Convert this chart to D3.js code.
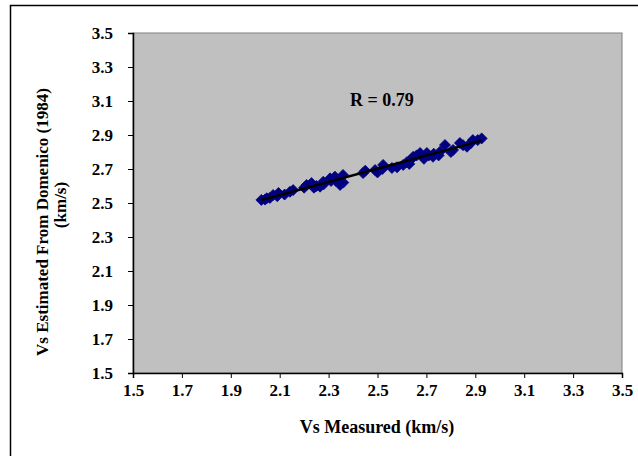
<!DOCTYPE html>
<html>
<head>
<meta charset="utf-8">
<script src="https://cdn.jsdelivr.net/npm/d3@7"></script>
<style>
  html, body { margin: 0; padding: 0; overflow: hidden; background: #fff; }
  svg { display: block; }
  text { font-family: "Liberation Serif", "Times New Roman", serif; font-weight: bold; fill: #000; }
</style>
</head>
<body>
<div id="chart"></div>
<script>
// measured Vs (km/s)
const measured = [2.025, 2.04, 2.047, 2.06, 2.073, 2.09, 2.095, 2.12, 2.142, 2.155, 2.20, 2.21, 2.23, 2.24,
  2.25, 2.265, 2.278, 2.28, 2.306, 2.31, 2.326, 2.33, 2.347, 2.359, 2.36, 2.441, 2.45, 2.49, 2.50, 2.52,
  2.523, 2.559, 2.58, 2.605, 2.62, 2.63, 2.64, 2.646, 2.66, 2.674, 2.68, 2.69, 2.702, 2.71, 2.727, 2.73,
  2.75, 2.756, 2.776, 2.80, 2.809, 2.837, 2.85, 2.866, 2.88, 2.89, 2.91, 2.926]
// Vs estimated from Domenico (1984)
const estimated = [2.518, 2.52, 2.528, 2.53, 2.547, 2.54, 2.559, 2.55, 2.566, 2.576, 2.59, 2.606, 2.617, 2.59,
  2.60, 2.596, 2.625, 2.61, 2.645, 2.63, 2.655, 2.63, 2.606, 2.665, 2.62, 2.676, 2.69, 2.694, 2.68, 2.70,
  2.724, 2.706, 2.71, 2.724, 2.74, 2.73, 2.76, 2.772, 2.78, 2.794, 2.78, 2.76, 2.794, 2.78, 2.772, 2.79,
  2.78, 2.802, 2.841, 2.80, 2.812, 2.853, 2.84, 2.831, 2.85, 2.87, 2.87, 2.88]
const tickValues = [1.5, 1.7, 1.9, 2.1, 2.3, 2.5, 2.7, 2.9, 3.1, 3.3, 3.5]
const rLabel = "R = 0.79"

const width = 638
const height = 456
const plot = { left: 133, top: 33, right: 622, bottom: 373 }

const svg = d3.select("#chart").append("svg")
  .attr("width", width)
  .attr("height", height)

// outer chart frame: only the left and top edges show in the picture
svg.append("path")
  .attr("d", `M10.5,${height}V5.5H${width}`)
  .attr("fill", "none")
  .attr("stroke", "#000")
  .attr("stroke-width", 1.5)

const x = d3.scaleLinear().domain([1.5, 3.5]).range([plot.left, plot.right])
const y = d3.scaleLinear().domain([1.5, 3.5]).range([plot.bottom, plot.top])

svg.append("rect")
  .attr("x", plot.left).attr("y", plot.top)
  .attr("width", plot.right - plot.left)
  .attr("height", plot.bottom - plot.top)
  .attr("fill", "#c0c0c0")
  .attr("stroke", "#808080")
  .attr("stroke-width", 1)

const fmt = d3.format(".1f")

const xAxis = svg.append("g")
  .attr("transform", `translate(0,${plot.bottom})`)
  .call(d3.axisBottom(x).tickValues(tickValues).tickFormat(fmt).tickSize(5).tickPadding(6))
const yAxis = svg.append("g")
  .attr("transform", `translate(${plot.left},0)`)
  .call(d3.axisLeft(y).tickValues(tickValues).tickFormat(fmt).tickSize(5).tickPadding(15))

for (const ax of [xAxis, yAxis]) {
  ax.attr("font-family", null).attr("font-size", null)
  ax.select(".domain").attr("stroke-width", 1.5)
  ax.selectAll("text").style("font-size", "17px")
}

// least-squares trend line through the points
const points = measured.map((m, i) => ({ m, e: estimated[i] }))
const mx = d3.mean(measured)
const my = d3.mean(estimated)
const slope = d3.sum(points, d => (d.m - mx) * (d.e - my)) / d3.sum(points, d => (d.m - mx) ** 2)
const intercept = my - slope * mx
const xExt = d3.extent(measured)

// markers
const diamond = "M0,-5.5L5.5,0L0,5.5L-5.5,0Z"
svg.append("g").selectAll("path")
  .data(points)
  .join("path")
  .attr("d", diamond)
  .attr("transform", d => `translate(${x(d.m)},${y(d.e)})`)
  .attr("fill", "#000080")
  .attr("stroke", "#000080")
  .attr("stroke-width", 0.8)

svg.append("line")
  .attr("x1", x(xExt[0])).attr("y1", y(slope * xExt[0] + intercept))
  .attr("x2", x(xExt[1])).attr("y2", y(slope * xExt[1] + intercept))
  .attr("stroke", "#000")
  .attr("stroke-width", 2.5)

svg.append("text")
  .attr("x", 382).attr("y", 106)
  .attr("text-anchor", "middle")
  .style("font-size", "18px")
  .text(rLabel)

svg.append("text")
  .attr("x", 377).attr("y", 433)
  .attr("text-anchor", "middle")
  .style("font-size", "18px")
  .text("Vs Measured (km/s)")

const yTitle = svg.append("text")
  .attr("transform", "rotate(-90)")
  .attr("text-anchor", "middle")
  .style("font-size", "17px")
yTitle.append("tspan").attr("x", -222).attr("y", 48).text("Vs Estimated From Domenico (1984)")
yTitle.append("tspan").attr("x", -205).attr("y", 66).text("(km/s)")
</script>
</body>
</html>
